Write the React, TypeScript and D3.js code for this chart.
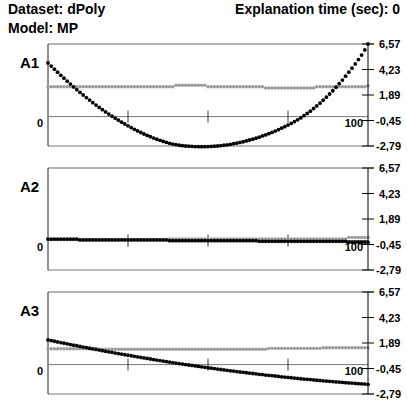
import React from "react";
import * as d3 from "d3";

// panel names and axis ticks
const panelNames = ["A1", "A2", "A3"];
const yTicks = [6.57, 4.23, 1.89, -0.45, -2.79];
const xTicks = [25, 50, 75];
const xLabels = [0, 100];

// sample index 0..100 for every series
const sampleX = d3.range(0, 101);

// A1: model output (black) and reference (gray)
const a1Black = [
  4.83, 4.54, 4.26, 3.98, 3.7, 3.43, 3.16, 2.89, 2.63, 2.38,
  2.13, 1.89, 1.65, 1.42, 1.19, 0.97, 0.75, 0.54, 0.34, 0.14,
  -0.05, -0.24, -0.42, -0.6, -0.77, -0.94, -1.1, -1.26, -1.41, -1.55,
  -1.69, -1.82, -1.94, -2.06, -2.17, -2.27, -2.37, -2.46, -2.54, -2.61,
  -2.67, -2.72, -2.76, -2.79, -2.81, -2.83, -2.84, -2.85, -2.85, -2.85,
  -2.84, -2.83, -2.81, -2.79, -2.76, -2.72, -2.68, -2.64, -2.58, -2.53,
  -2.46, -2.4, -2.32, -2.24, -2.16, -2.07, -1.98, -1.87, -1.77, -1.66,
  -1.54, -1.42, -1.29, -1.15, -1.02, -0.87, -0.72, -0.56, -0.39, -0.21,
  -0.01, 0.2, 0.41, 0.65, 0.89, 1.14, 1.41, 1.69, 1.98, 2.28,
  2.6, 2.93, 3.26, 3.62, 3.98, 4.35, 4.74, 5.14, 5.55, 6.03,
  6.57,
];
const a1Gray = [
  2.65, 2.65, 2.65, 2.65, 2.65, 2.65, 2.65, 2.65, 2.65, 2.65,
  2.65, 2.65, 2.65, 2.65, 2.65, 2.65, 2.65, 2.65, 2.65, 2.65,
  2.65, 2.65, 2.65, 2.65, 2.65, 2.65, 2.65, 2.65, 2.65, 2.65,
  2.65, 2.65, 2.65, 2.65, 2.65, 2.65, 2.65, 2.65, 2.65, 2.65,
  2.78, 2.78, 2.78, 2.78, 2.78, 2.78, 2.78, 2.78, 2.78, 2.78,
  2.65, 2.65, 2.65, 2.65, 2.65, 2.65, 2.65, 2.65, 2.65, 2.65,
  2.65, 2.65, 2.65, 2.65, 2.65, 2.65, 2.65, 2.65, 2.53, 2.53,
  2.53, 2.53, 2.53, 2.53, 2.53, 2.53, 2.53, 2.53, 2.53, 2.53,
  2.53, 2.53, 2.53, 2.53, 2.65, 2.65, 2.65, 2.65, 2.65, 2.65,
  2.65, 2.65, 2.65, 2.65, 2.65, 2.65, 2.65, 2.65, 2.65, 2.65,
  2.74,
];

// A2
const a2Black = [
  0.05, 0.05, 0.05, 0.05, 0.05, 0.05, 0.05, 0.05, 0.05, 0.05,
  -0.03, -0.03, -0.03, -0.03, -0.03, -0.03, -0.03, -0.03, -0.03, -0.03,
  -0.03, -0.03, -0.03, -0.03, -0.03, -0.03, -0.03, -0.03, -0.03, -0.03,
  -0.03, -0.03, -0.03, -0.03, -0.03, -0.03, -0.03, -0.03, -0.1, -0.1,
  -0.1, -0.1, -0.1, -0.1, -0.1, -0.1, -0.1, -0.1, -0.1, -0.1,
  -0.1, -0.1, -0.1, -0.1, -0.1, -0.1, -0.1, -0.1, -0.1, -0.1,
  -0.1, -0.1, -0.1, -0.1, -0.1, -0.1, -0.16, -0.16, -0.16, -0.16,
  -0.16, -0.16, -0.16, -0.16, -0.16, -0.16, -0.16, -0.16, -0.16, -0.16,
  -0.16, -0.16, -0.16, -0.16, -0.16, -0.16, -0.16, -0.16, -0.16, -0.16,
  -0.16, -0.16, -0.16, -0.16, -0.24, -0.24, -0.24, -0.24, -0.24, -0.24,
  -0.24,
];
const a2Gray = [
  0.02, 0.02, 0.02, 0.02, 0.02, 0.02, 0.02, 0.02, 0.02, 0.02,
  0.02, 0.02, 0.02, 0.02, 0.02, 0.02, 0.02, 0.02, 0.02, 0.02,
  0.02, 0.02, 0.02, 0.02, 0.02, 0.02, 0.02, 0.02, 0.02, 0.02,
  0.02, 0.02, 0.02, 0.02, 0.02, 0.02, 0.02, 0.02, 0.07, 0.07,
  0.07, 0.07, 0.07, 0.07, 0.07, 0.07, 0.07, 0.07, 0.07, 0.07,
  0.07, 0.07, 0.07, 0.07, 0.07, 0.07, 0.07, 0.07, 0.07, 0.07,
  0.07, 0.07, 0.07, 0.07, 0.07, 0.07, 0.07, 0.07, 0.07, 0.07,
  0.07, 0.07, 0.07, 0.07, 0.07, 0.07, 0.07, 0.07, 0.07, 0.07,
  0.07, 0.07, 0.07, 0.07, 0.07, 0.07, 0.07, 0.07, 0.07, 0.07,
  0.07, 0.07, 0.07, 0.07, 0.2, 0.2, 0.2, 0.2, 0.2, 0.2,
  0.2,
];

// A3
const a3Black = [
  2.17, 2.11, 2.05, 1.99, 1.93, 1.87, 1.81, 1.75, 1.69, 1.64,
  1.58, 1.52, 1.46, 1.41, 1.35, 1.3, 1.24, 1.19, 1.13, 1.08,
  1.03, 0.97, 0.92, 0.87, 0.82, 0.77, 0.72, 0.67, 0.62, 0.57,
  0.52, 0.47, 0.42, 0.37, 0.32, 0.28, 0.23, 0.18, 0.14, 0.09,
  0.05, 0.0, -0.04, -0.09, -0.13, -0.17, -0.21, -0.26, -0.3, -0.34,
  -0.38, -0.42, -0.46, -0.5, -0.54, -0.58, -0.62, -0.66, -0.69, -0.73,
  -0.77, -0.8, -0.84, -0.87, -0.91, -0.94, -0.98, -1.01, -1.05, -1.08,
  -1.11, -1.14, -1.18, -1.21, -1.24, -1.27, -1.3, -1.33, -1.36, -1.39,
  -1.42, -1.44, -1.47, -1.5, -1.53, -1.55, -1.58, -1.6, -1.63, -1.65,
  -1.68, -1.7, -1.73, -1.75, -1.77, -1.79, -1.82, -1.84, -1.86, -1.88,
  -1.9,
];
const a3Gray = [
  1.36, 1.36, 1.36, 1.36, 1.36, 1.36, 1.36, 1.36, 1.36, 1.36,
  1.36, 1.36, 1.36, 1.36, 1.36, 1.36, 1.31, 1.31, 1.31, 1.31,
  1.31, 1.31, 1.31, 1.31, 1.31, 1.31, 1.31, 1.31, 1.31, 1.31,
  1.31, 1.31, 1.31, 1.31, 1.31, 1.31, 1.31, 1.31, 1.31, 1.31,
  1.31, 1.31, 1.31, 1.31, 1.31, 1.31, 1.31, 1.31, 1.31, 1.31,
  1.31, 1.31, 1.31, 1.31, 1.31, 1.31, 1.31, 1.31, 1.31, 1.31,
  1.31, 1.31, 1.31, 1.31, 1.31, 1.31, 1.31, 1.31, 1.31, 1.4,
  1.4, 1.4, 1.4, 1.4, 1.4, 1.4, 1.4, 1.4, 1.4, 1.4,
  1.4, 1.4, 1.4, 1.4, 1.4, 1.4, 1.46, 1.46, 1.46, 1.46,
  1.46, 1.46, 1.46, 1.46, 1.46, 1.46, 1.46, 1.46, 1.46, 1.46,
  1.46,
];

const blackSeries = [a1Black, a2Black, a3Black];
const graySeries = [a1Gray, a2Gray, a3Gray];

const W = 407;
const H = 403;
const font = "'Liberation Sans', Arial, sans-serif";

// layout of the stacked panels
const panelTops = [44, 168, 292];
const panelH = 102;
const left = 48;
const right = 368;

const commaFmt = d3.formatLocale({
  decimal: ",",
  thousands: ".",
  grouping: [3],
  currency: ["", ""],
  minus: "-",
}).format(".2f");

function Panel({ idx }: { idx: number }) {
  const top = panelTops[idx];
  const x = d3.scaleLinear().domain([0, 100]).range([left, right]);
  const y = d3.scaleLinear().domain([-2.79, 6.57]).range([panelH, 0]);
  const y0 = y(0) + 1;
  const black = blackSeries[idx];
  const gray = graySeries[idx];

  return (
    <g transform={`translate(0,${top})`}>
      <text x={20} y={24} fontSize={15} fontWeight="bold" fontFamily={font}>
        {panelNames[idx]}
      </text>
      {/* frame */}
      <line x1={left} x2={right + 6} y1={0} y2={0} stroke="#666" />
      <line x1={left} x2={right + 6} y1={panelH} y2={panelH} stroke="#777" />
      <line x1={left} x2={left} y1={0} y2={panelH} stroke="#222" />
      {/* zero line as x axis */}
      <line x1={left} x2={right} y1={y0} y2={y0} stroke="#777" />
      {xTicks.map((t) => (
        <line key={t} x1={x(t)} x2={x(t)} y1={y0 - 6} y2={y0 + 6} stroke="#333" />
      ))}
      {xLabels.map((t) => (
        <text
          key={t}
          x={x(t) - 5}
          y={y0 + 10}
          textAnchor="end"
          fontSize={11}
          fontWeight="bold"
          fontFamily={font}
        >
          {t}
        </text>
      ))}
      {/* series */}
      {gray.map((v, i) => (
        <circle key={"g" + i} cx={x(sampleX[i])} cy={y(v)} r={1.7} fill="#9a9a9a" />
      ))}
      {black.map((v, i) => (
        <circle key={"b" + i} cx={x(sampleX[i])} cy={y(v)} r={1.9} fill="#000" />
      ))}
      {/* right y axis */}
      <line x1={right} x2={right} y1={0} y2={panelH} stroke="#000" />
      {yTicks.map((t) => (
        <g key={t}>
          <line x1={right - 6} x2={right + 6} y1={y(t)} y2={y(t)} stroke="#000" />
          <text
            x={t < 0 ? 376 : 379}
            y={y(t) + 4}
            fontSize={11}
            fontWeight="bold"
            fontFamily={font}
          >
            {commaFmt(t)}
          </text>
        </g>
      ))}
    </g>
  );
}

export default function App() {
  return (
    <svg width={W} height={H} style={{ position: "absolute", left: 0, top: 0, background: "#fff" }}>
      <text x={8} y={14} fontSize={14} fontWeight="bold" fontFamily={font}>
        Dataset: dPoly
      </text>
      <text x={400} y={14} fontSize={14} fontWeight="bold" fontFamily={font} textAnchor="end">
        Explanation time (sec): 0
      </text>
      <text x={8} y={33} fontSize={14} fontWeight="bold" fontFamily={font}>
        Model: MP
      </text>
      {panelNames.map((n, i) => (
        <Panel key={n} idx={i} />
      ))}
    </svg>
  );
}
